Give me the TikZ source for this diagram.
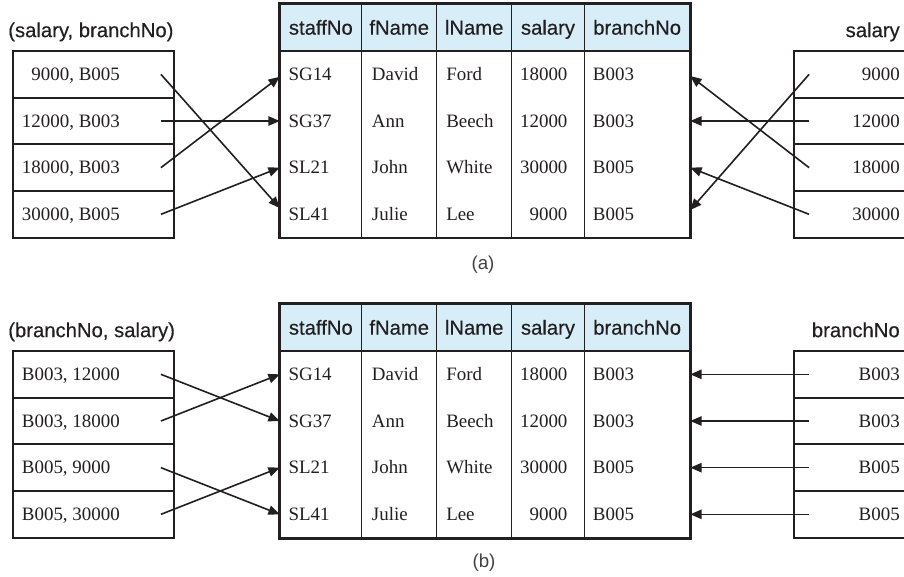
\documentclass[tikz,border=0pt]{standalone}
\usepackage{fontspec}
\setmainfont{Liberation Serif}
\newfontfamily\hsans[FakeBold=0.35]{Liberation Sans}
\newfontfamily\csans{Liberation Sans}
\usetikzlibrary{arrows.meta}
\definecolor{hdr}{HTML}{D7EEF9}
\definecolor{ink}{HTML}{231F20}
\newcommand\stafftable[1]{%
  \node[hcell,minimum width=81.7*0.75pt] (#1H1) at (320.85,27.5) {staffNo};
  \node[hcell,minimum width=75*0.75pt] (#1H2) at (399.2,27.5) {fName};
  \node[hcell,minimum width=75*0.75pt] (#1H3) at (474.2,27.5) {lName};
  \node[hcell,minimum width=72.6*0.75pt] (#1H4) at (548,27.5) {salary};
  \node[hcell,minimum width=105.7*0.75pt] (#1H5) at (637.15,27.5) {branchNo};
  \node[bcell,minimum width=81.7*0.75pt] (#1C1) at (320.85,144.35) {};
  \node[bcell,minimum width=75*0.75pt] (#1C2) at (399.2,144.35) {};
  \node[bcell,minimum width=75*0.75pt] (#1C3) at (474.2,144.35) {};
  \node[bcell,minimum width=72.6*0.75pt] (#1C4) at (548,144.35) {};
  \node[bcell,minimum width=105.7*0.75pt] (#1C5) at (637.15,144.35) {};
  \draw[line width=1.6pt,ink] (#1H1.north west) rectangle (#1C5.south east);
  \node[rowsp] (#1R1) at (485,74.33) {};
  \node[rowsp] (#1R2) at (485,121) {};
  \node[rowsp] (#1R3) at (485,167.67) {};
  \node[rowsp] (#1R4) at (485,214.33) {};
  \node[tx,anchor=west] (#1a1) at (288.3,74.33) {SG14};
  \node[tx,anchor=west] (#1b1) at (371.7,74.33) {David};
  \node[tx,anchor=west] (#1c1) at (446,74.33) {Ford};
  \node[tx,anchor=east] (#1d1) at (567.7,74.33) {18000};
  \node[tx,anchor=west] (#1e1) at (592.7,74.33) {B003};
  \node[tx,anchor=west] (#1a2) at (288.3,121) {SG37};
  \node[tx,anchor=west] (#1b2) at (371.7,121) {Ann};
  \node[tx,anchor=west] (#1c2) at (446,121) {Beech};
  \node[tx,anchor=east] (#1d2) at (567.7,121) {12000};
  \node[tx,anchor=west] (#1e2) at (592.7,121) {B003};
  \node[tx,anchor=west] (#1a3) at (288.3,167.67) {SL21};
  \node[tx,anchor=west] (#1b3) at (371.7,167.67) {John};
  \node[tx,anchor=west] (#1c3) at (446,167.67) {White};
  \node[tx,anchor=east] (#1d3) at (567.7,167.67) {30000};
  \node[tx,anchor=west] (#1e3) at (592.7,167.67) {B005};
  \node[tx,anchor=west] (#1a4) at (288.3,214.33) {SL41};
  \node[tx,anchor=west] (#1b4) at (371.7,214.33) {Julie};
  \node[tx,anchor=west] (#1c4) at (446,214.33) {Lee};
  \node[tx,anchor=east] (#1d4) at (567.7,214.33) {9000};
  \node[tx,anchor=west] (#1e4) at (592.7,214.33) {B005};
  \node[lbox] (#1L1) at (93.35,74.33) {};
  \node[lbox] (#1L2) at (93.35,121) {};
  \node[lbox] (#1L3) at (93.35,167.67) {};
  \node[lbox] (#1L4) at (93.35,214.33) {};
  \node[rbox] (#1Q1) at (877.3,74.33) {};
  \node[rbox] (#1Q2) at (877.3,121) {};
  \node[rbox] (#1Q3) at (877.3,167.67) {};
  \node[rbox] (#1Q4) at (877.3,214.33) {};
}
\begin{document}
\begin{tikzpicture}[x=0.75pt,y=-0.75pt,
  tx/.style={font=\fontsize{14.2}{16}\selectfont,text=ink,inner sep=0pt,text height=9.3pt,text depth=0pt},
  hd/.style={font=\hsans\fontsize{15.2}{18}\selectfont,text=ink,inner sep=0pt,text height=10.7pt,text depth=0pt},
  captxt/.style={font=\csans\fontsize{14}{17}\selectfont,text=ink!85,inner sep=0pt},
  hcell/.style={hd,draw=ink,fill=hdr,line width=1.1pt,minimum height=47*0.75pt},
  bcell/.style={draw=ink,line width=1.1pt,minimum height=186.7*0.75pt,inner sep=0pt},
  rowsp/.style={inner sep=0pt,minimum width=410*0.75pt,minimum height=46.67*0.75pt},
  lbox/.style={draw=ink,line width=1.4pt,inner sep=0pt,minimum width=161.3*0.75pt,minimum height=46.67*0.75pt},
  rbox/.style={draw=ink,line width=1.4pt,inner sep=0pt,minimum width=166*0.75pt,minimum height=46.67*0.75pt},
  arr/.style={draw=ink,line width=1.2pt,-{Triangle[length=8.5pt,width=7pt]}}
]
\useasboundingbox (0,0) rectangle (904,577);
\clip (0,0) rectangle (904,577);
\fill[white] (0,0) rectangle (904,577);

% ---------------- (a)
\stafftable{a}
\node[hd,anchor=west] (atl) at (8,30) {(salary, branchNo)};
\node[hd,anchor=east] (atr) at (900,30) {salary};
\node[tx,anchor=west] (al1) at (21.7,74.33) {\phantom{0}9000, B005};
\node[tx,anchor=west] (al2) at (21.7,121) {12000, B003};
\node[tx,anchor=west] (al3) at (21.7,167.67) {18000, B003};
\node[tx,anchor=west] (al4) at (21.7,214.33) {30000, B005};
\node[tx,anchor=east] (ar1) at (900,74.33) {9000};
\node[tx,anchor=east] (ar2) at (900,121) {12000};
\node[tx,anchor=east] (ar3) at (900,167.67) {18000};
\node[tx,anchor=east] (ar4) at (900,214.33) {30000};
\draw[arr] ([xshift=-10.5pt]aL1.east) -- ([yshift=4.7pt]aR4.west);
\draw[arr] ([xshift=-10.5pt]aL2.east) -- (aR2.west);
\draw[arr] ([xshift=-10.5pt]aL3.east) -- ([yshift=-1.8pt]aR1.west);
\draw[arr] ([xshift=-10.5pt]aL4.east) -- (aR3.west);
\draw[arr] ([xshift=11.8pt]aQ1.west) -- ([yshift=3.2pt]aR4.east);
\draw[arr] ([xshift=11.8pt]aQ2.west) -- (aR2.east);
\draw[arr] ([xshift=11.8pt]aQ3.west) -- ([yshift=-1.3pt]aR1.east);
\draw[arr] ([xshift=11.8pt]aQ4.west) -- (aR3.east);
\node[captxt] (capa) at (483,265) {(a)};

% ---------------- (b)
\begin{scope}[shift={(0,300)}]
\stafftable{b}
\node[hd,anchor=west] (btl) at (8,30) {(branchNo, salary)};
\node[hd,anchor=east] (btr) at (900,30) {branchNo};
\node[tx,anchor=west] (bl1) at (21.7,74.33) {B003, 12000};
\node[tx,anchor=west] (bl2) at (21.7,121) {B003, 18000};
\node[tx,anchor=west] (bl3) at (21.7,167.67) {B005, 9000};
\node[tx,anchor=west] (bl4) at (21.7,214.33) {B005, 30000};
\node[tx,anchor=east] (br1) at (900,74.33) {B003};
\node[tx,anchor=east] (br2) at (900,121) {B003};
\node[tx,anchor=east] (br3) at (900,167.67) {B005};
\node[tx,anchor=east] (br4) at (900,214.33) {B005};
\draw[arr] ([xshift=-10.5pt]bL1.east) -- (bR2.west);
\draw[arr] ([xshift=-10.5pt]bL2.east) -- (bR1.west);
\draw[arr] ([xshift=-10.5pt]bL3.east) -- (bR4.west);
\draw[arr] ([xshift=-10.5pt]bL4.east) -- (bR3.west);
\draw[arr] ([xshift=11.8pt]bQ1.west) -- (bR1.east);
\draw[arr] ([xshift=11.8pt]bQ2.west) -- (bR2.east);
\draw[arr] ([xshift=11.8pt]bQ3.west) -- (bR3.east);
\draw[arr] ([xshift=11.8pt]bQ4.west) -- (bR4.east);
\node[captxt] (capb) at (484,263) {(b)};
\end{scope}
\end{tikzpicture}
\end{document}
